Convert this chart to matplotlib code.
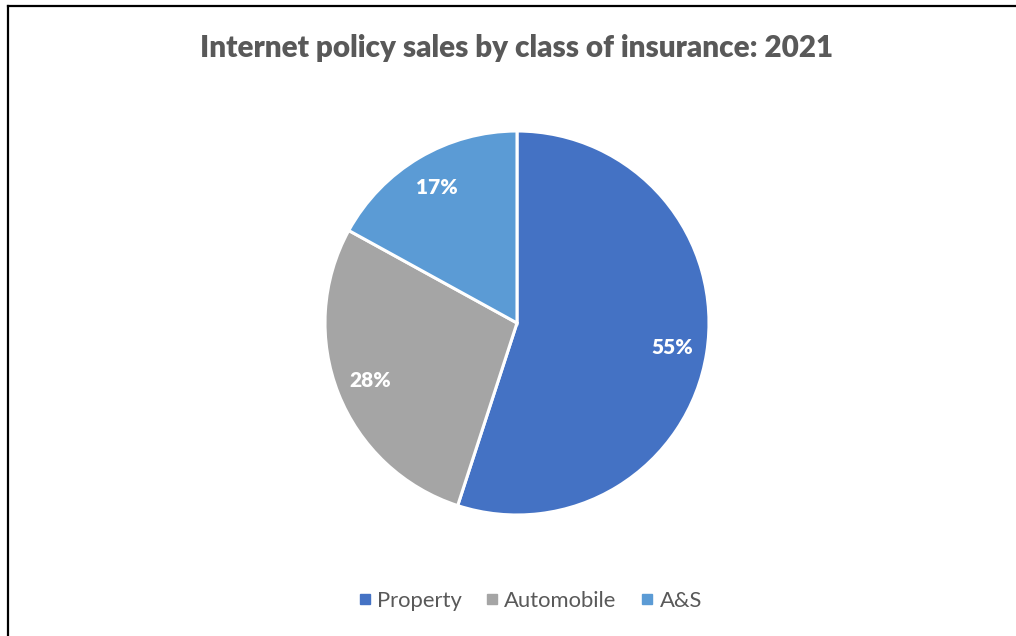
import matplotlib.pyplot as plt
from matplotlib.lines import Line2D

categories = ["Property", "Automobile", "A&S"]
shares = [55, 28, 17]
colors = ["#4472C4", "#A5A5A5", "#5B9BD5"]

plt.rcParams['font.family'] = ['Lato', 'DejaVu Sans']

W, H = 1016, 636
fig = plt.figure(figsize=(W / 100, H / 100), dpi=100)

# pie centred at (517, 323) px, radius ~192 px
cx, cy, r = 517, 323, 192
ax = fig.add_axes([(cx - r) / W, (H - cy - r) / H, 2 * r / W, 2 * r / H])
wedges, _, autotexts = ax.pie(
    shares, colors=colors, startangle=90, counterclock=False,
    autopct=lambda p: f"{p:.0f}%", pctdistance=0.82,
    wedgeprops=dict(edgecolor="white", linewidth=2.2),
    textprops=dict(color="white", fontsize=15, fontweight="heavy"),
)
ax.set_xlim(-1.0, 1.0)
ax.set_ylim(-1.0, 1.0)
ax.set_aspect("equal")

fig.text(cx / W, 1 - 48 / H, "Internet policy sales by class of insurance: 2021",
         ha="center", va="center", fontsize=21.3, fontweight="heavy", color="#595959")

handles = [Line2D([], [], marker="s", linestyle="", markersize=7,
                  markerfacecolor=c, markeredgecolor=c) for c in colors]
fig.legend(handles, categories, loc="center", bbox_to_anchor=(530 / W, 1 - 601 / H),
           ncol=3, frameon=False, fontsize=15.8, handlelength=0.6, handletextpad=0.25,
           columnspacing=1.1, labelcolor="#595959")

# outer frame: top and left edges
fig.add_artist(Line2D([8 / W, 1], [1 - 6 / H, 1 - 6 / H], color="black", linewidth=1.6))
fig.add_artist(Line2D([8 / W, 8 / W], [0, 1 - 6 / H], color="black", linewidth=1.6))

fig.savefig("out.png", dpi=100)
